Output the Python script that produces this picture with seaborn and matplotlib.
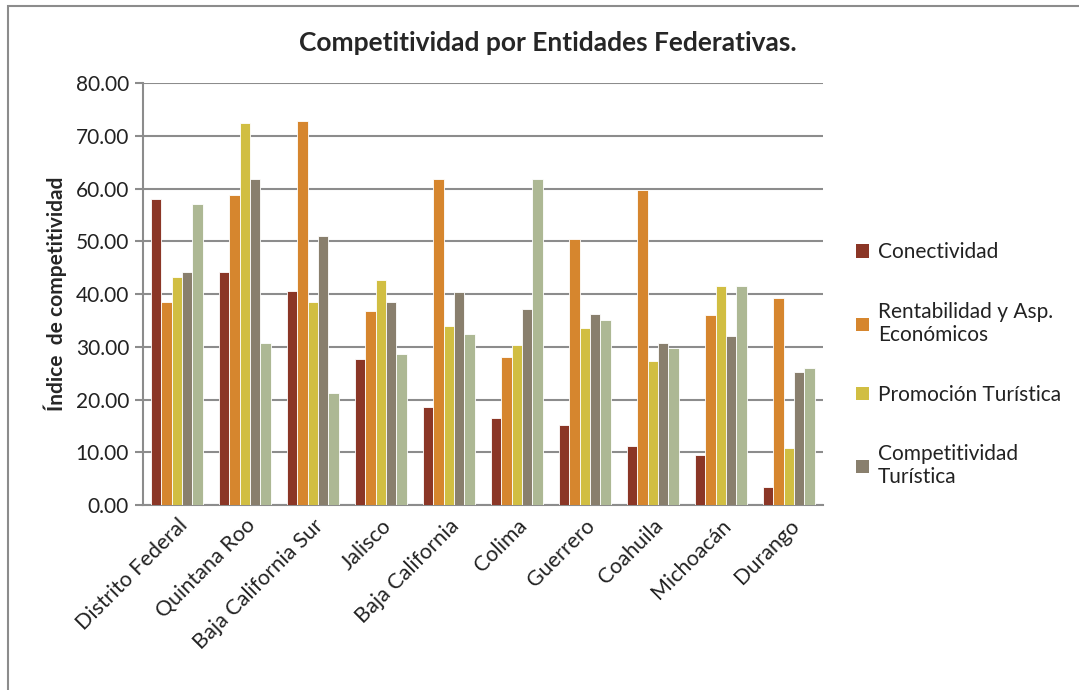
import pandas as pd
import matplotlib.pyplot as plt
import seaborn as sns
from matplotlib.patches import Patch, Rectangle

entidades = ["Distrito Federal", "Quintana Roo", "Baja California Sur", "Jalisco",
             "Baja California", "Colima", "Guerrero", "Coahuila", "Michoacán", "Durango"]

conectividad = [58.1, 44.1, 40.6, 27.6, 18.5, 16.5, 15.1, 11.2, 9.4, 3.5]
rentabilidad = [38.5, 58.8, 72.8, 36.8, 61.9, 28.0, 50.4, 59.8, 36.1, 39.2]
promocion = [43.3, 72.4, 38.5, 42.7, 33.9, 30.4, 33.6, 27.3, 41.6, 10.8]
competitividad = [44.1, 61.9, 51.1, 38.5, 40.3, 37.1, 36.3, 30.7, 32.1, 25.2]
general = [57.0, 30.7, 21.3, 28.7, 32.5, 61.9, 35.0, 29.8, 41.6, 25.9]

series = ["Conectividad", "Rentabilidad y Asp.\nEconómicos", "Promoción Turística",
          "Competitividad\nTurística", "Índice General"]
colores = ["#8B3626", "#D6862E", "#D1BE42", "#897F6D", "#ADB894"]

rows = []
for nombre, valores in zip(series, [conectividad, rentabilidad, promocion, competitividad, general]):
    for ent, v in zip(entidades, valores):
        rows.append({"entidad": ent, "serie": nombre, "valor": v})
df = pd.DataFrame(rows)

sns.set_style("white")
plt.rcParams["font.family"] = ["Lato", "DejaVu Sans"]

fig = plt.figure(figsize=(10.79, 6.90), dpi=100)
ax = fig.add_axes([0.1325, 0.268, 0.630, 0.6116])

sns.barplot(data=df, x="entidad", y="valor", hue="serie", order=entidades,
            hue_order=series, palette=colores, width=0.76, saturation=1,
            edgecolor="white", linewidth=0.6, legend=False, ax=ax, zorder=3)

ax.set_ylim(0, 80)
ax.set_yticks(range(0, 81, 10))
ax.set_yticklabels([f"{v:.2f}" for v in range(0, 81, 10)], fontsize=15, color="#222222")
ax.yaxis.grid(True, color="#8c8c8c", linewidth=1.5, zorder=0)
ax.set_axisbelow(True)
for s in ["top", "right"]:
    ax.spines[s].set_visible(False)
for s in ["left", "bottom"]:
    ax.spines[s].set_color("#8c8c8c")
    ax.spines[s].set_linewidth(1.5)
ax.tick_params(axis="y", left=True, length=6, width=1.5, color="#8c8c8c", pad=4)
ax.tick_params(axis="x", bottom=False, pad=4)
ax.set_xlim(-0.5, len(entidades) - 0.5)

ax.set_xticks(range(len(entidades)))
ax.set_xticklabels(entidades, rotation=45, ha="right", rotation_mode="anchor",
                   fontsize=15.5, color="#222222")
ax.set_xlabel("")
ax.set_ylabel("Índice  de competitividad", fontsize=15, fontweight="bold", labelpad=6)

fig.text(0.508, 0.938, "Competitividad por Entidades Federativas.", ha="center",
         va="center", fontsize=19, fontweight="bold")

handles = [Patch(facecolor=c, edgecolor="none") for c in colores[:4]]
fig.legend(handles, series[:4], loc="upper left", bbox_to_anchor=(0.776, 0.676),
           frameon=False, fontsize=15, labelspacing=1.9, handlelength=0.6,
           handleheight=0.6, handletextpad=0.45, labelcolor="#222222")

fig.patches.append(Rectangle((0.0075, -0.1), 1.2, 1.091, transform=fig.transFigure,
                             fill=False, edgecolor="#8c8c8c", linewidth=1.5))

fig.savefig("out.png", dpi=100)
